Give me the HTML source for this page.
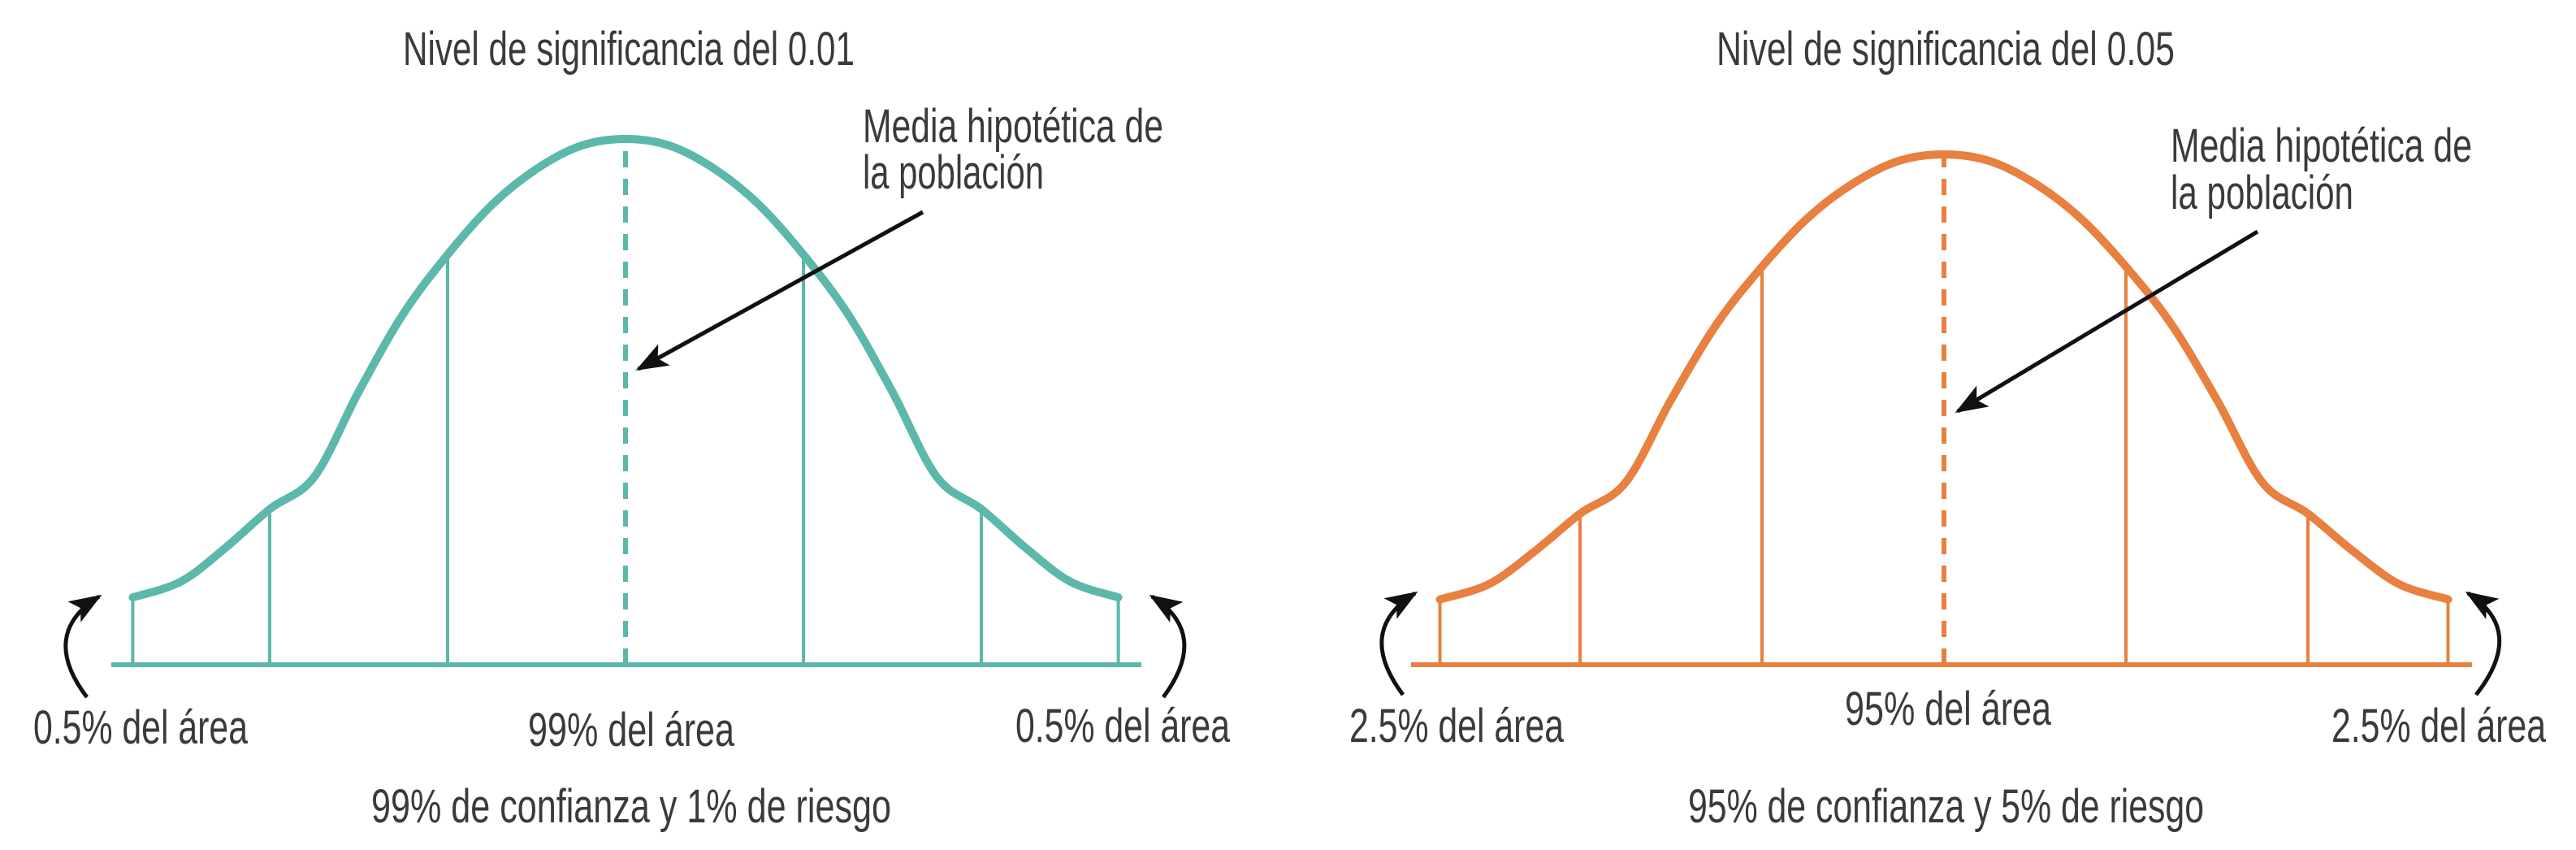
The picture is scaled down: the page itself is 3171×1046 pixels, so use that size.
<!DOCTYPE html>
<html><head><meta charset="utf-8">
<style>
html,body{margin:0;padding:0;background:#fff;}
svg{display:block;}
text{font-family:"Liberation Sans Narrow","Liberation Sans",sans-serif;fill:#3a3a3a;font-size:58px;}
</style></head>
<body>
<svg id="chart" width="3171" height="1046" viewBox="0 0 3171 1046" xmlns="http://www.w3.org/2000/svg">
<defs>
<marker id="ah" viewBox="0 0 40 30" refX="36" refY="15" markerWidth="40" markerHeight="30" orient="auto" markerUnits="userSpaceOnUse">
<path d="M0,0 L40,15 L0,30 L9,15 Z" fill="#111"/>
</marker>
</defs>
<g id="left">
<text x="496" y="80" textLength="556" lengthAdjust="spacingAndGlyphs">Nivel de significancia del 0.01</text>
<text x="1062" y="175" textLength="370" lengthAdjust="spacingAndGlyphs">Media hipotética de</text>
<text x="1062" y="232" textLength="223" lengthAdjust="spacingAndGlyphs">la población</text>
<text x="41" y="915" textLength="264" lengthAdjust="spacingAndGlyphs">0.5% del área</text>
<text x="650" y="918" textLength="254" lengthAdjust="spacingAndGlyphs">99% del área</text>
<text x="1250" y="913" textLength="264" lengthAdjust="spacingAndGlyphs">0.5% del área</text>
<text x="457" y="1012" textLength="640" lengthAdjust="spacingAndGlyphs">99% de confianza y 1% de riesgo</text>
</g>
<g id="right">
<text x="2113" y="80" textLength="564" lengthAdjust="spacingAndGlyphs">Nivel de significancia del 0.05</text>
<text x="2672" y="199" textLength="371" lengthAdjust="spacingAndGlyphs">Media hipotética de</text>
<text x="2672" y="257" textLength="225" lengthAdjust="spacingAndGlyphs">la población</text>
<text x="1661" y="913" textLength="264" lengthAdjust="spacingAndGlyphs">2.5% del área</text>
<text x="2271" y="892" textLength="254" lengthAdjust="spacingAndGlyphs">95% del área</text>
<text x="2870" y="913" textLength="264" lengthAdjust="spacingAndGlyphs">2.5% del área</text>
<text x="2078" y="1012" textLength="635" lengthAdjust="spacingAndGlyphs">95% de confianza y 5% de riesgo</text>
</g>
</svg>
<script>
// curve shape: z (sigma units) and relative height
const curveZ = [0, 0.25, 0.5, 0.75, 1, 1.25, 1.5, 1.75, 2, 2.25, 2.5, 2.77];
const curveH = [1, 0.987, 0.943, 0.875, 0.78, 0.667, 0.519, 0.357, 0.296, 0.222, 0.158, 0.128];
// vertical division lines (sigma units)
const dividerZ = [1, 2, 2.77];

const NS = "http://www.w3.org/2000/svg";
const svg = document.getElementById('chart');
function mk(tag, attrs, parent){const e=document.createElementNS(NS,tag);for(const k in attrs)e.setAttribute(k,attrs[k]);(parent||svg).appendChild(e);return e;}

const charts = [
 {g:'left', color:'#5cb8aa', cx:770, sigma:219, base:818, peak:171, x0:137, x1:1405,
  arrows:[[107,858,48,780,122,734],[1432,858,1490,780,1418,734]], pointer:[1136,261,786,454]},
 {g:'right', color:'#e8803f', cx:2393, sigma:224, base:818, peak:190, x0:1737, x1:3043,
  arrows:[[1727,855,1668,776,1742,730],[3048,855,3110,776,3038,730]], pointer:[2779,285,2410,506]}
];

charts.forEach(c=>{
 const g=document.getElementById(c.g);
 const xs=z=>c.cx+z*c.sigma;
 const ys=h=>c.base-h*(c.base-c.peak);
 const pts=[];
 for(let i=curveZ.length-1;i>0;i--) pts.push([xs(-curveZ[i]),ys(curveH[i])]);
 for(let i=0;i<curveZ.length;i++) pts.push([xs(curveZ[i]),ys(curveH[i])]);
 let d='M'+pts[0][0]+','+pts[0][1];
 for(let i=0;i<pts.length-1;i++){
  const p0=pts[Math.max(0,i-1)],p1=pts[i],p2=pts[i+1],p3=pts[Math.min(pts.length-1,i+2)];
  const c1=[p1[0]+(p2[0]-p0[0])/6,p1[1]+(p2[1]-p0[1])/6];
  const c2=[p2[0]-(p3[0]-p1[0])/6,p2[1]-(p3[1]-p1[1])/6];
  d+=' C'+c1[0]+','+c1[1]+' '+c2[0]+','+c2[1]+' '+p2[0]+','+p2[1];
 }
 const hAt=z=>{for(let i=0;i<curveZ.length-1;i++){if(z>=curveZ[i]&&z<=curveZ[i+1]){const t=(z-curveZ[i])/(curveZ[i+1]-curveZ[i]);return curveH[i]+t*(curveH[i+1]-curveH[i]);}}return curveH[curveH.length-1];};
 const base=mk('line',{x1:c.x0,y1:c.base,x2:c.x1,y2:c.base,stroke:c.color,'stroke-width':6},g);
 
 
 dividerZ.forEach(z=>{[-1,1].forEach(s=>{
  const x=xs(s*z);
  const l=mk('line',{x1:x,y1:c.base,x2:x,y2:ys(hAt(z))+4,stroke:c.color,'stroke-width':4},g);
  
  
 });});
 const m=mk('line',{x1:c.cx,y1:c.base,x2:c.cx,y2:c.peak+4,stroke:c.color,'stroke-width':6,'stroke-dasharray':'20 14'},g);
 
 
 const cv=mk('path',{d:d,fill:'none',stroke:c.color,'stroke-width':10,'stroke-linecap':'round'},g);
 
 
 c.arrows.forEach(a=>{
  const p=mk('path',{d:`M${a[0]},${a[1]} Q${a[2]},${a[3]} ${a[4]},${a[5]}`,fill:'none',stroke:'#111','stroke-width':5,'marker-end':'url(#ah)'},g);
  
  
 });
 const pa=c.pointer;
 const pp=mk('line',{x1:pa[0],y1:pa[1],x2:pa[2],y2:pa[3],stroke:'#111','stroke-width':5,'marker-end':'url(#ah)'},g);
 
 
});
</script>
</body></html>
